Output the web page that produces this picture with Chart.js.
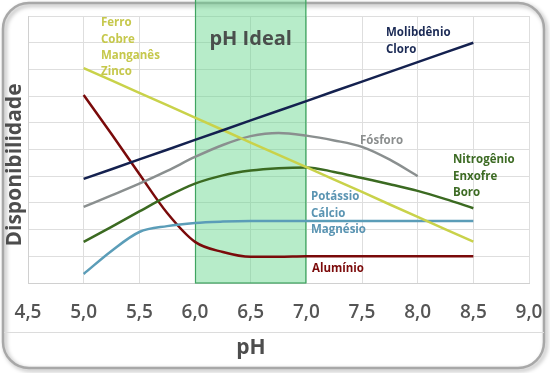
<!DOCTYPE html>
<html>
<head>
<meta charset="utf-8">
<script src="https://cdn.jsdelivr.net/npm/chart.js@4"></script>
<style>
  html, body { margin: 0; padding: 0; background: #fff; }
  #wrap { width: 550px; height: 373px; }
</style>
</head>
<body>
<div id="wrap"><canvas id="chart" width="550" height="373"></canvas></div>
<script>
// valores de pH (eixo x)
const phValues = [5.0, 5.25, 5.5, 5.75, 6.0, 6.25, 6.5, 6.75, 7.0, 7.25, 7.5, 7.75, 8.0, 8.25, 8.5];
const xTicks = [4.5, 5.0, 5.5, 6.0, 6.5, 7.0, 7.5, 8.0, 8.5, 9.0];

// disponibilidade de cada grupo (0 a 10)
const molibdenio = [3.9, 4.26, 4.63, 4.99, 5.36, 5.72, 6.09, 6.45, 6.81, 7.18, 7.54, 7.91, 8.27, 8.64, 9.0];
const ferro = [8.05, 7.59, 7.12, 6.66, 6.19, 5.73, 5.26, 4.8, 4.34, 3.87, 3.41, 2.94, 2.48, 2.01, 1.55];
const fosforo = [2.85, 3.28, 3.72, 4.2, 4.72, 5.17, 5.5, 5.62, 5.52, 5.34, 5.1, 4.62, 4.0, null, null];
const nitrogenio = [1.54, 2.1, 2.68, 3.24, 3.72, 4.03, 4.21, 4.3, 4.33, 4.16, 3.93, 3.7, 3.45, 3.14, 2.8];
const potassio = [0.34, 1.2, 1.91, 2.13, 2.25, 2.3, 2.32, 2.32, 2.32, 2.32, 2.32, 2.32, 2.32, 2.32, 2.32];
const aluminio = [7.04, 5.58, 4.08, 2.62, 1.54, 1.16, 0.98, 0.98, 1.0, 1.0, 1.0, 1.0, 1.0, 1.0, 1.0];

const FONT = '"Open Sans", "Noto Sans", sans-serif';

function pts(vals) {
    return phValues.map((x, i) => ({ x: x, y: vals[i] }));
}

function serie(label, vals, cor, curva) {
    const ds = {
        label: label,
        data: pts(vals),
        borderColor: cor,
        borderWidth: 2.5,
        pointRadius: 0,
        fill: false,
        spanGaps: false,
        tension: 0
    };
    if (curva) ds.cubicInterpolationMode = 'monotone';
    return ds;
}

// moldura, faixa "pH Ideal", textos e rótulos
const decoracao = {
    id: 'decoracao',
    beforeDraw(chart) {
        const c = chart.ctx;
        c.save();
        c.fillStyle = '#fff';
        c.fillRect(0, 0, chart.width, chart.height);
        c.shadowColor = 'rgba(0,0,0,0.35)';
        c.shadowBlur = 4;
        c.shadowOffsetX = 2;
        c.shadowOffsetY = 2;
        c.strokeStyle = '#a8a8a8';
        c.lineWidth = 2.5;
        c.beginPath();
        c.roundRect(3, 3, 541, 365, 26);
        c.stroke();
        c.restore();
        // linha separadora
        c.save();
        c.strokeStyle = '#dcdcdc';
        c.lineWidth = 1;
        c.beginPath();
        c.moveTo(4, 332.5);
        c.lineTo(544, 332.5);
        c.stroke();
        c.restore();
    },
    beforeDatasetsDraw(chart) {
        const c = chart.ctx;
        const xs = chart.scales.x;
        const a = chart.chartArea;
        const x1 = xs.getPixelForValue(6.0);
        const x2 = xs.getPixelForValue(7.0);
        c.save();
        c.fillStyle = 'rgba(95, 212, 135, 0.45)';
        c.fillRect(x1, 0, x2 - x1, a.bottom);
        c.strokeStyle = '#3fa460';
        c.lineWidth = 1.2;
        c.strokeRect(x1 + 0.5, -2, x2 - x1 - 1, a.bottom + 2);
        c.fillStyle = '#4a4f4c';
        c.font = 'bold 20px ' + FONT;
        c.textAlign = 'center';
        c.textBaseline = 'middle';
        c.fillText('pH Ideal', (x1 + x2) / 2, 39);
        c.restore();
    },
    afterDraw(chart) {
        const c = chart.ctx;
        c.save();
        c.textBaseline = 'middle';
        c.textAlign = 'left';
        c.font = 'bold 11.5px ' + FONT;
        const blocos = [
            [['Ferro', 'Cobre', 'Manganês', 'Zinco'], 101, 23, '#c6c84c'],
            [['Molibdênio', 'Cloro'], 386, 33, '#1b2a55'],
            [['Fósforo'], 360, 141, '#8b8e8e'],
            [['Nitrogênio', 'Enxofre', 'Boro'], 453, 160, '#3d6b24'],
            [['Potássio', 'Cálcio', 'Magnésio'], 311, 197, '#5a94b2'],
            [['Alumínio'], 312, 269, '#7b0a0a']
        ];
        blocos.forEach(([linhas, x, y, cor]) => {
            c.fillStyle = cor;
            linhas.forEach((t, i) => c.fillText(t, x, y + i * 16.3));
        });
        c.fillStyle = '#4d4d4d';
        c.font = 'bold 21px ' + FONT;
        c.textAlign = 'center';
        c.fillText('pH', 251, 348);
        c.translate(15, 165);
        c.rotate(-Math.PI / 2);
        c.fillText('Disponibilidade', 0, 0);
        c.restore();
    }
};

const chart = new Chart(document.getElementById('chart').getContext('2d'), {
    type: 'line',
    data: {
        datasets: [
            serie('Molibdênio, Cloro', molibdenio, '#14214f'),
            serie('Ferro, Cobre, Manganês, Zinco', ferro, '#c9d24a'),
            serie('Fósforo', fosforo, '#8a8f8f', true),
            serie('Nitrogênio, Enxofre, Boro', nitrogenio, '#3b6a21', true),
            serie('Potássio, Cálcio, Magnésio', potassio, '#5b9db8', true),
            serie('Alumínio', aluminio, '#7a0a0a', true)
        ]
    },
    options: {
        responsive: false,
        animation: false,
        layout: { padding: { left: 28, right: 21, top: 16, bottom: 40 } },
        plugins: {
            legend: { display: false },
            tooltip: { enabled: false }
        },
        scales: {
            x: {
                type: 'linear',
                min: 4.5,
                max: 9.0,
                afterFit: (s) => { s.height = 50; s.paddingLeft = 0; s.paddingRight = 0; },
                afterBuildTicks: (s) => { s.ticks = xTicks.map(v => ({ value: v })); },
                grid: { color: '#dedede', drawTicks: false },
                border: { color: '#d0d0d0' },
                ticks: {
                    padding: 18,
                    color: '#555',
                    font: { family: FONT, size: 19, weight: '600' },
                    callback: (v) => v.toFixed(1).replace('.', ',')
                }
            },
            y: {
                min: 0,
                max: 10,
                afterFit: (s) => { s.width = 0; s.paddingTop = 0; s.paddingBottom = 0; },
                ticks: { display: false, stepSize: 1 },
                grid: { color: '#dedede', drawTicks: false },
                border: { color: '#d0d0d0' }
            }
        }
    },
    plugins: [decoracao]
});
</script>
</body>
</html>
